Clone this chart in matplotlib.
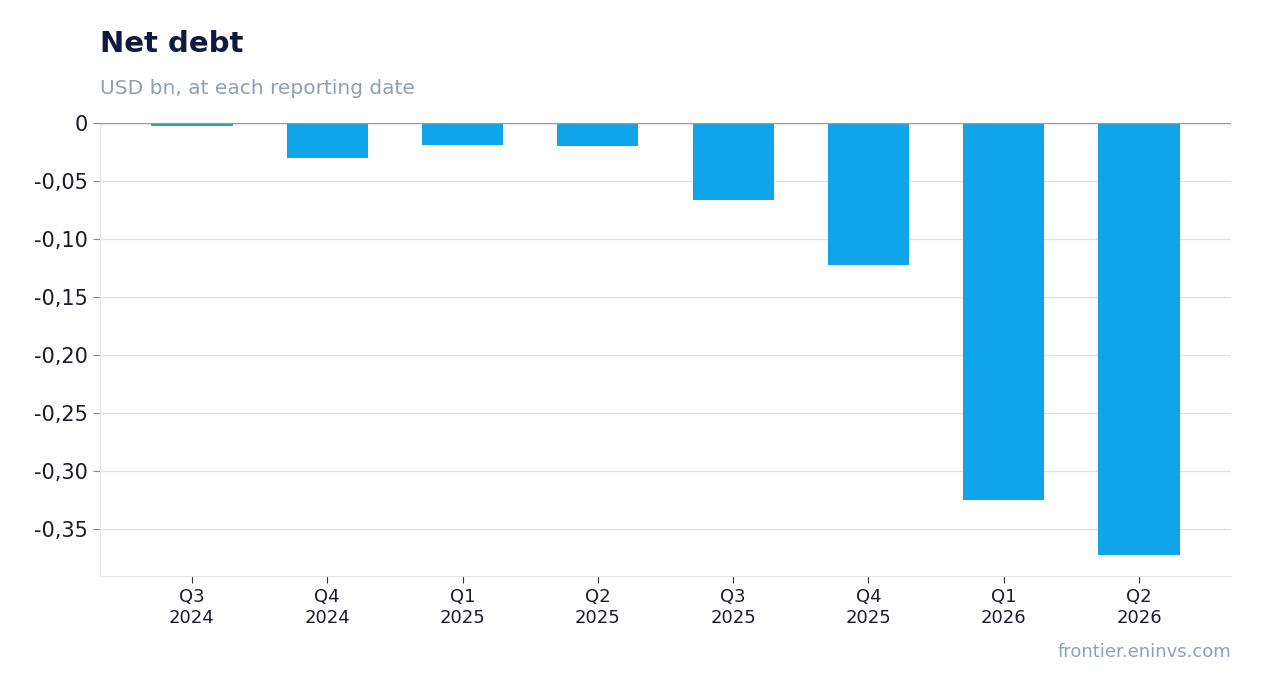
import matplotlib
matplotlib.use("Agg")
import matplotlib.pyplot as plt
from matplotlib.ticker import FuncFormatter

categories = ["Q3\n2024", "Q4\n2024", "Q1\n2025", "Q2\n2025", "Q3\n2025", "Q4\n2025", "Q1\n2026", "Q2\n2026"]
values = [-0.003, -0.030, -0.019, -0.020, -0.066, -0.122, -0.325, -0.372]
yticks = [0, -0.05, -0.10, -0.15, -0.20, -0.25, -0.30, -0.35]

fig = plt.figure(figsize=(12.62, 6.93), dpi=100)
ax = fig.add_axes([100/1262, 1-576/693, 1131/1262, 453/693])
x = range(len(categories))
ax.bar(x, values, width=0.6, color="#10a5e8", zorder=3)
ax.set_xlim(-0.68, len(categories) - 0.32)
ax.set_ylim(-0.3905, 0)
ax.set_yticks(yticks)
def fmt(v, p):
    if abs(v) < 1e-9:
        return "0"
    return f"{v:.2f}".replace(".", ",").replace("-", "-")
ax.yaxis.set_major_formatter(FuncFormatter(fmt))
ax.set_xticks(list(x))
ax.set_xticklabels(categories, fontsize=13, color="#1a1a2e")
ax.tick_params(axis="y", labelsize=15, colors="#1a1a2e", length=5, color="#888888")
ax.tick_params(axis="x", length=5, color="#333333")
ax.grid(axis="y", color="#dde1ea", linewidth=1, zorder=0)
ax.axhline(0, color="#999999", linewidth=1, zorder=4)
for s in ["top", "right"]:
    ax.spines[s].set_visible(False)
ax.spines["left"].set_color("#e3e6ee")
ax.spines["bottom"].set_color("#e3e6ee")
fig.text(100/1262, 1-44/693, "Net debt", fontsize=21, fontweight="bold", color="#0e1a3f", va="center")
fig.text(100/1262, 1-88/693, "USD bn, at each reporting date", fontsize=14.5, color="#8f9fb5", va="center")
fig.text(1231/1262, 1-652/693, "frontier.eninvs.com", fontsize=13, color="#8f9fb5", va="center", ha="right")
fig.savefig("out.png", dpi=100)
